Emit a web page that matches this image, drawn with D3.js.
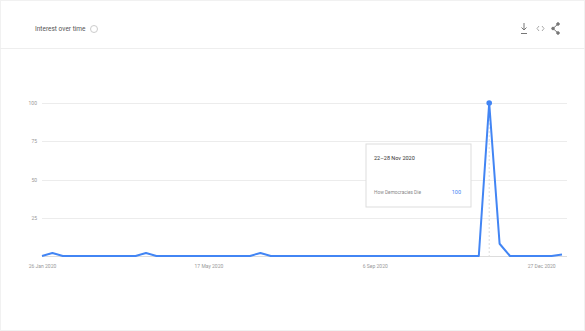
<!DOCTYPE html>
<html><head><meta charset="utf-8">
<script src="https://cdn.jsdelivr.net/npm/d3@7"></script>
<style>
html,body{margin:0;padding:0;background:#fff;}
svg{display:block;font-family:Roboto,Arial,sans-serif;}
</style></head>
<body>
<svg id="c" width="585" height="331"></svg>
<script>
// ---- data ----
const startDate = "2020-01-26";
const weeklyValues = [0,2,0,0,0,0,0,0,0,0,2,0,0,0,0,0,0,0,0,0,0,2,0,0,0,0,0,0,0,0,0,0,0,0,0,0,0,0,0,0,0,0,0,100,8,0,0,0,0,0,1];
const yTicks = [25,50,75,100];
const xTickDates = ["2020-01-26","2020-05-17","2020-09-06","2020-12-27"];
const xTickLabels = ["26 Jan 2020","17 May 2020","6 Sep 2020","27 Dec 2020"];
const seriesName = "How Democracies Die";
const tooltipDate = "22–28 Nov 2020";

const parse = d3.timeParse("%Y-%m-%d");
const t0 = parse(startDate);
const data = weeklyValues.map((v,i)=>({date:d3.timeDay.offset(t0,i*7),value:v}));

const svg = d3.select("#c");
// card
svg.append("rect").attr("x",0.5).attr("y",0.5).attr("width",584).attr("height",330).attr("fill","#fff").attr("stroke","#f1f1f1");
svg.append("line").attr("x1",0).attr("x2",585).attr("y1",48.5).attr("y2",48.5).attr("stroke","#eeeeee");
svg.append("text").attr("x",35).attr("y",31).attr("font-size",6.5).attr("fill","#555").text("Interest over time");
svg.append("circle").attr("cx",94).attr("cy",29).attr("r",3.5).attr("fill","none").attr("stroke","#ccc").attr("stroke-width",1);
// icons
const ic = svg.append("g").attr("fill","none").attr("stroke","#777").attr("stroke-width",1);
ic.append("line").attr("x1",524).attr("x2",524).attr("y1",23).attr("y2",30);
ic.append("path").attr("d","M521.5,27.5 L524,30 L526.5,27.5");
ic.append("line").attr("x1",521).attr("x2",527).attr("y1",33.5).attr("y2",33.5);
ic.append("path").attr("d","M539,26 L537,28.5 L539,31 M542,26 L544,28.5 L542,31").attr("stroke","#aaa");
ic.append("path").attr("d","M558,24 L553,28.5 L558,33");
ic.append("circle").attr("cx",558).attr("cy",24).attr("r",1.3).attr("fill","#777");
ic.append("circle").attr("cx",553).attr("cy",28.5).attr("r",1.3).attr("fill","#777");
ic.append("circle").attr("cx",558).attr("cy",33).attr("r",1.3).attr("fill","#777");

const x = d3.scaleTime().domain([data[0].date, data[data.length-1].date]).range([42,562]);
const y = d3.scaleLinear().domain([0,100]).range([256,103]);

// grid
const g = svg.append("g");
g.selectAll("line.grid").data(yTicks).join("line")
  .attr("x1",42).attr("x2",567).attr("y1",d=>Math.round(y(d))+0.5).attr("y2",d=>Math.round(y(d))+0.5)
  .attr("stroke","#ececec");
g.selectAll("text.yl").data(yTicks).join("text")
  .attr("x",37).attr("y",d=>y(d)+2).attr("text-anchor","end").attr("font-size",5).attr("fill","#999").text(d=>d);
// baseline
g.append("line").attr("x1",42).attr("x2",567).attr("y1",256.5).attr("y2",256.5).attr("stroke","#ddd");

// x axis labels
const xAxis = d3.axisBottom(x).tickValues(xTickDates.map(parse)).tickSize(0)
  .tickFormat((d,i)=>xTickLabels[i]);
const ax = svg.append("g").attr("transform","translate(0,260)").call(xAxis);
ax.select(".domain").remove();
ax.selectAll("text").attr("font-size",5).attr("fill","#999").attr("font-family","Roboto,Arial,sans-serif").attr("dy","0.9em");

// hover vertical line
const peak = data.reduce((a,b)=>b.value>a.value?b:a);
svg.append("line").attr("x1",x(peak.date)).attr("x2",x(peak.date)).attr("y1",y(100)).attr("y2",258)
  .attr("stroke","#ddd").attr("stroke-dasharray","2,2");

// line
svg.append("path").datum(data).attr("fill","none").attr("stroke","#4285f4").attr("stroke-width",2)
  .attr("stroke-linejoin","round")
  .attr("d",d3.line().x(d=>x(d.date)).y(d=>y(d.value)));
svg.append("circle").attr("cx",x(peak.date)).attr("cy",y(peak.value)).attr("r",2.8).attr("fill","#4285f4");

// tooltip
const tt = svg.append("g").attr("transform","translate(366,144)");
tt.append("rect").attr("width",105).attr("height",63).attr("fill","#fff").attr("stroke","#ddd");
tt.append("text").attr("x",8).attr("y",16).attr("font-size",5.5).attr("fill","#333").text(tooltipDate);
tt.append("text").attr("x",8).attr("y",50).attr("font-size",4.8).attr("fill","#888").text(seriesName);
tt.append("text").attr("x",95).attr("y",50).attr("font-size",5.5).attr("text-anchor","end").attr("fill","#4285f4").text(peak.value);
</script>
</body></html>
